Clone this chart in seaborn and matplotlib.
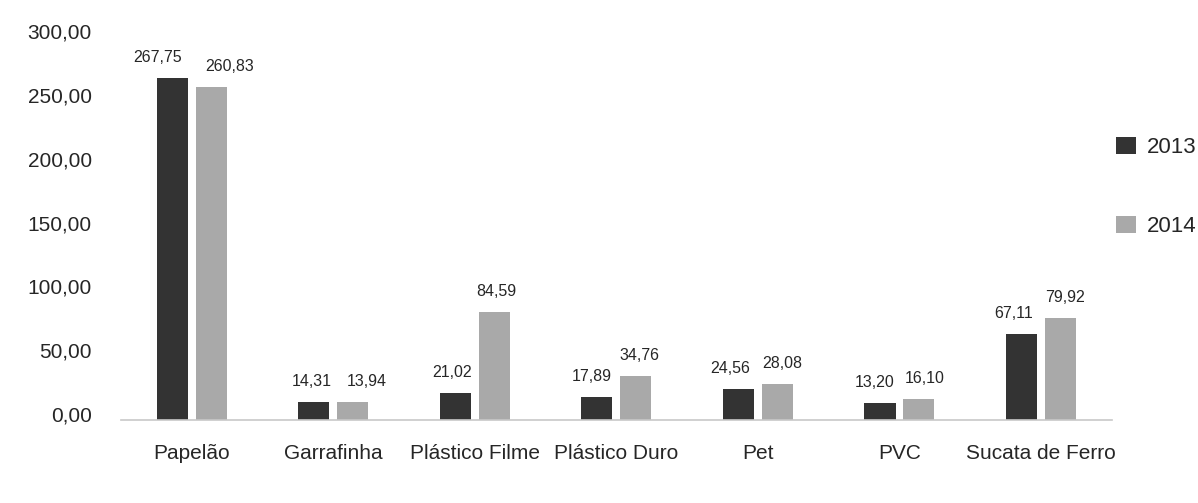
import matplotlib.pyplot as plt
import matplotlib.transforms as mtransforms
import pandas as pd
import seaborn as sns
from matplotlib.ticker import FuncFormatter

categories = [
    "Papelão",
    "Garrafinha",
    "Plástico Filme",
    "Plástico Duro",
    "Pet",
    "PVC",
    "Sucata de Ferro",
]

values_2013 = [267.75, 14.31, 21.02, 17.89, 24.56, 13.20, 67.11]
values_2014 = [260.83, 13.94, 84.59, 34.76, 28.08, 16.10, 79.92]

years = ["2013", "2014"]

df = pd.DataFrame({
    "material": categories * 2,
    "ano": [years[0]] * len(categories) + [years[1]] * len(categories),
    "valor": values_2013 + values_2014,
})


def decimal_comma(v):
    return f"{v:.2f}".replace(".", ",")


sns.set_style("white")
plt.rcParams["font.family"] = ["Liberation Sans", "DejaVu Sans"]

fig, ax = plt.subplots(figsize=(11.98, 5.03), dpi=100)
fig.subplots_adjust(left=0.101, right=0.928, top=0.926, bottom=0.165)

sns.barplot(
    data=df,
    x="material",
    y="valor",
    hue="ano",
    palette=["#333333", "#a9a9a9"],
    width=0.55,
    gap=0.2,
    edgecolor="none",
    ax=ax
)

# the labels in the original are nudged sideways so they don't collide
nudges = [
    [-15, -2, -3, -5, -8, -5, -8],
    [18, 14, 2, 4, 5, 6, 5],
]

for container, dx in zip(ax.containers, nudges):
    for bar, value, shift_x in zip(container.patches, container.datavalues, dx):
        ax.annotate(
            decimal_comma(value),
            xy=(bar.get_x() + bar.get_width() / 2, bar.get_height()),
            xytext=(shift_x, 13),
            textcoords="offset pixels",
            ha="center",
            va="bottom",
            fontsize=11.5
        )

ax.set_ylim(0, 300)
ax.set_yticks([0, 50, 100, 150, 200, 250, 300])
ax.yaxis.set_major_formatter(FuncFormatter(lambda v, _: decimal_comma(v)))
ax.set_xlim(-0.5, 6.5)

ax.tick_params(axis="y", labelsize=15, length=0, pad=21)
ax.tick_params(axis="x", labelsize=15, length=0, pad=17)

# tick labels in the scan sit slightly above their value
shift = mtransforms.ScaledTranslation(0, 6 / 100, fig.dpi_scale_trans)
for label in ax.get_yticklabels():
    label.set_transform(label.get_transform() + shift)

ax.set_xlabel("")
ax.set_ylabel("")

for side in ["top", "right", "left"]:
    ax.spines[side].set_visible(False)
ax.spines["bottom"].set_color("#c8c8c8")
ax.spines["bottom"].set_linewidth(1.2)

ax.legend(
    loc="center left",
    bbox_to_anchor=(1.0, 0.608),
    frameon=False,
    fontsize=16,
    borderaxespad=0.2,
    borderpad=0,
    handlelength=0.9,
    handleheight=0.8,
    labelspacing=2.6,
    handletextpad=0.5
)

plt.savefig("out.png", dpi=100)
plt.close()
